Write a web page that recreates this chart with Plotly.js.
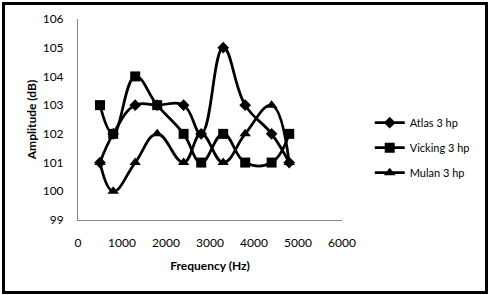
<!DOCTYPE html>
<html>
<head>
<meta charset="utf-8">
<script src="https://cdn.plot.ly/plotly-3.0.1.min.js"></script>
<style>
  html, body { margin: 0; padding: 0; background: #fff; }
  #frame { position: absolute; left: 2px; top: 2px; width: 480px; height: 286px; border: 3px solid #000; }
  #chart { position: absolute; left: 0; top: 0; width: 489px; height: 295px; }
</style>
</head>
<body>
<div id="frame"></div>
<div id="chart"></div>
<script>
const frequency = [500, 800, 1300, 1800, 2400, 2800, 3300, 3800, 4400, 4800];
const atlas   = [101, 102, 103, 103, 103, 102, 105, 103, 102, 101];
const vicking = [103, 102, 104, 103, 102, 101, 102, 101, 101, 102];
const mulan   = [101, 100, 101, 102, 101, 102, 101, 102, 103, 101];
const seriesNames = ['Atlas 3 hp', 'Vicking 3 hp', 'Mulan 3 hp'];
const yTicks = [99, 100, 101, 102, 103, 104, 105, 106];
const xTicks = [0, 1000, 2000, 3000, 4000, 5000, 6000];

const FONT = 'Lato, "Open Sans", sans-serif';
function mk(y, name, symbol, size, grp) {
  return {
    x: frequency, y: y, name: name, type: 'scatter', mode: 'lines+markers',
    legendgroup: grp,
    line: {color: '#000', width: 2.75, shape: 'spline', smoothing: 1.2},
    marker: {symbol: symbol, size: size, color: '#000'}
  };
}
const data = [
  mk(atlas, seriesNames[0], 'diamond', 9, 'a'),
  mk(vicking, seriesNames[1], 'square', 10, 'b'),
  mk(mulan, seriesNames[2], 'triangle-up', 10, 'c')
];
const layout = {
  width: 489, height: 295,
  margin: {l: 78, r: 147, t: 19, b: 75},
  paper_bgcolor: 'rgba(0,0,0,0)', plot_bgcolor: 'rgba(0,0,0,0)',
  font: {family: FONT, size: 12, color: '#000'},
  showlegend: true,
  legend: {x: 1.105, xanchor: 'left', y: 0.36, yanchor: 'middle',
           font: {family: FONT, size: 11, color: '#000'}, tracegroupgap: 6,
           itemwidth: 30, bgcolor: 'rgba(0,0,0,0)'},
  xaxis: {
    range: [0, 6000], tickvals: xTicks, ticktext: xTicks.map(String),
    showgrid: false, zeroline: false, showline: true, linecolor: '#868686', linewidth: 1,
    ticks: '', ticklabelstandoff: 12,
    title: {text: 'Frequency (Hz)', font: {family: FONT, size: 12, weight: 'bold'}, standoff: 12}
  },
  yaxis: {
    range: [99, 106], tickvals: yTicks, ticktext: yTicks.map(String),
    showgrid: false, zeroline: false, showline: true, linecolor: '#868686', linewidth: 1,
    ticks: '', ticklabelstandoff: 11,
    title: {text: 'Amplitude (dB)', font: {family: FONT, size: 12, weight: 'bold'}, standoff: 3}
  }
};
Plotly.newPlot('chart', data, layout, {displayModeBar: false, staticPlot: true});
</script>
</body>
</html>
